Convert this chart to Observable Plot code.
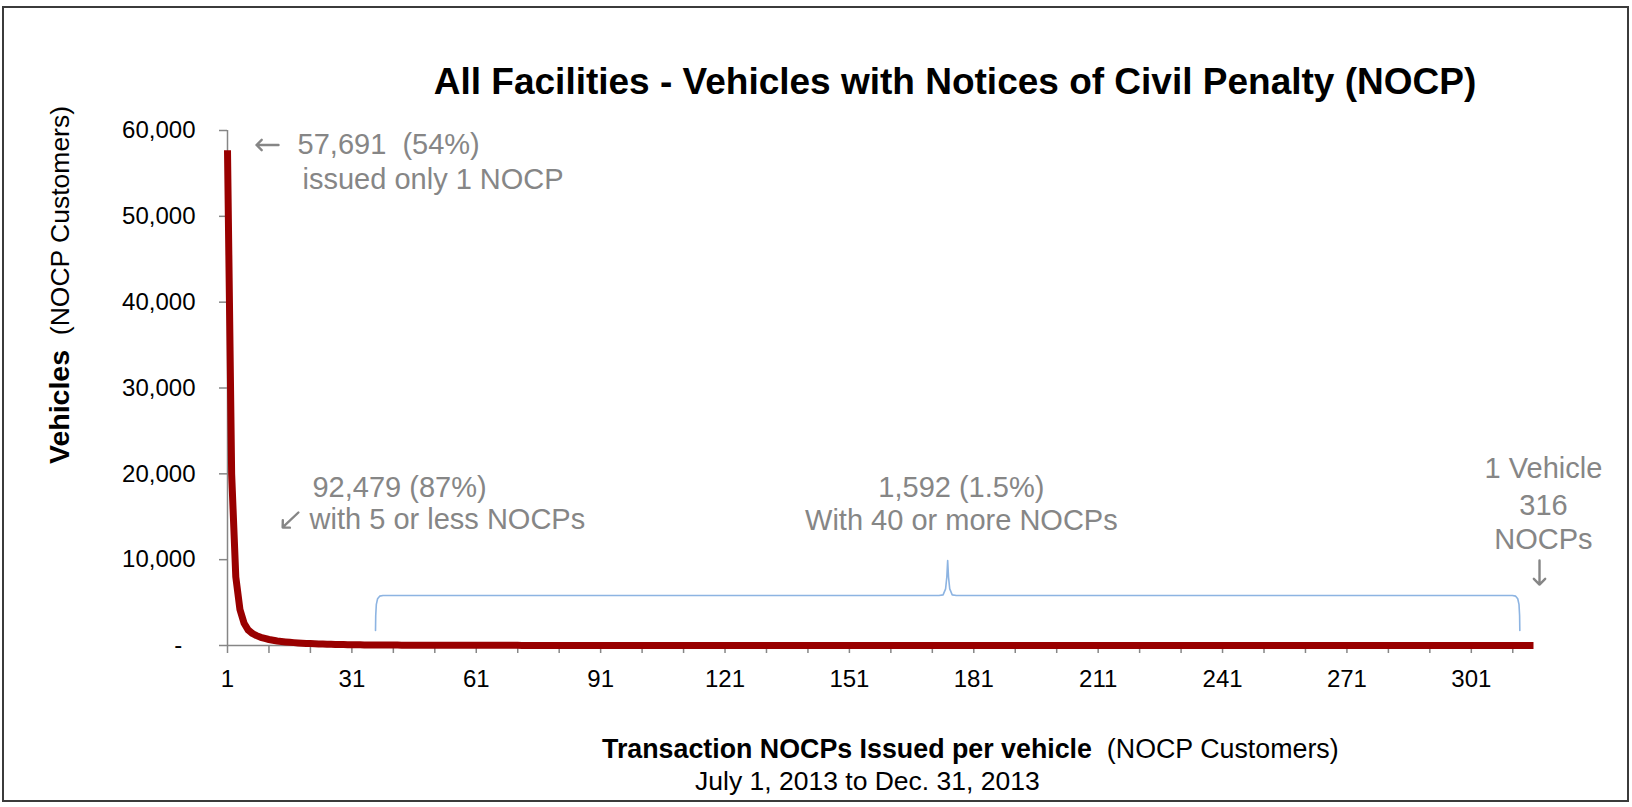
<!DOCTYPE html>
<html>
<head>
<meta charset="utf-8">
<script src="https://cdn.jsdelivr.net/npm/d3@7"></script>
<script src="https://cdn.jsdelivr.net/npm/@observablehq/plot@0.6"></script>
<style>
  html, body { margin: 0; padding: 0; background: #fff; }
  body { font-family: "Liberation Sans", Arial, sans-serif; }
  #wrap { position: relative; width: 1632px; height: 807px; overflow: hidden; background: #fff; }
  #frame { position: absolute; left: 2px; top: 6px; width: 1623px; height: 792px; border: 2px solid #3b3b3b; pointer-events: none; }
  #title { position: absolute; left: 955px; top: 63px; transform: translateX(-50%); white-space: nowrap;
           font-size: 37px; line-height: 37px; font-weight: bold; color: #000; }
  #chart { position: absolute; left: 0; top: 100px; }
  #ylabel { position: absolute; left: 59px; top: 285px; transform: translate(-50%, -50%) rotate(-90deg);
            white-space: nowrap; font-size: 26.5px; line-height: 28px; color: #000; }
  #ylabel b { font-size: 28.5px; }
  #xlabel { position: absolute; left: 602px; top: 736px; white-space: nowrap; font-size: 26.8px; line-height: 26.8px; color: #000; }
  #xsub { position: absolute; left: 695px; top: 768px; white-space: nowrap; font-size: 26.5px; line-height: 26.5px; color: #000; }
</style>
</head>
<body>
<div id="wrap">
  <div id="title">All Facilities - Vehicles with Notices of Civil Penalty (NOCP)</div>
  <div id="chart"></div>
  <div id="ylabel"><b>Vehicles</b>&nbsp; (NOCP Customers)</div>
  <div id="xlabel"><b>Transaction NOCPs Issued per vehicle</b>&nbsp; (NOCP Customers)</div>
  <div id="xsub">July 1, 2013 to Dec. 31, 2013</div>
  <div id="frame"></div>
</div>
<script>
// Number of vehicles by number of NOCPs issued (1 ... 316)
const vehicles = [
  57691, 20000, 8000, 4200, 2588, 1800, 1400, 1150, 950, 820,
  700, 610, 530, 470, 420, 375, 335, 300, 270, 245,
  222, 202, 184, 168, 154, 141, 129, 118, 108, 99,
  91, 84, 78, 72, 67, 62, 58, 54, 50, 48,
  46, 44, 42, 41, 40, 38, 37, 36, 35, 34,
  33, 32, 31, 30, 29, 28, 27, 26, 25, 24,
  23, 22, 21, 20, 19, 18, 18, 17, 16, 15,
  15, 14, 14, 13, 13, 12, 12, 11, 11, 10,
  10, 10, 9, 9, 9, 8, 8, 8, 8, 7,
  7, 7, 7, 6, 6, 6, 6, 6, 5, 5,
  5, 5, 5, 4, 4, 4, 4, 4, 4, 4,
  4, 4, 3, 4, 3, 3, 3, 3, 3, 3,
  3, 3, 3, 3, 3, 3, 2, 3, 2, 2,
  3, 2, 2, 2, 3, 2, 2, 2, 2, 2,
  2, 2, 2, 2, 2, 2, 2, 2, 2, 2,
  2, 1, 2, 2, 2, 1, 2, 2, 1, 2,
  1, 2, 2, 1, 2, 1, 2, 1, 2, 1,
  2, 1, 1, 2, 1, 2, 1, 1, 2, 1,
  1, 2, 1, 1, 1, 2, 1, 1, 1, 1,
  1, 1, 2, 1, 1, 1, 1, 1, 1, 1,
  1, 1, 1, 1, 1, 1, 1, 1, 1, 1,
  1, 1, 0, 1, 1, 1, 1, 0, 1, 1,
  1, 0, 1, 1, 1, 0, 1, 1, 1, 1,
  0, 1, 1, 0, 1, 1, 0, 1, 1, 1,
  0, 1, 0, 1, 1, 0, 1, 0, 1, 1,
  0, 1, 0, 1, 0, 1, 0, 1, 0, 1,
  0, 0, 1, 0, 1, 0, 0, 1, 0, 1,
  0, 0, 1, 0, 0, 1, 0, 0, 1, 0,
  1, 0, 0, 1, 0, 0, 0, 1, 0, 0,
  1, 0, 0, 0, 1, 0, 0, 0, 1, 0,
  0, 1, 0, 0, 0, 0, 1, 0, 0, 0,
  0, 1, 0, 0, 0, 1
];
// categories: NOCPs issued per vehicle
const nocps = d3.range(1, vehicles.length + 1);

// axis ticks
const yTicks = [0, 10000, 20000, 30000, 40000, 50000, 60000];
const xMinorTicks = [1, 11, 21, 31, 41, 51, 61, 71, 81, 91, 101, 111, 121, 131, 141, 151, 161, 171, 181, 191,
                     201, 211, 221, 231, 241, 251, 261, 271, 281, 291, 301, 311];
const xTickLabels = [1, 31, 61, 91, 121, 151, 181, 211, 241, 271, 301];

// annotation texts
const annStartText = ["57,691  (54%)", "issued only 1 NOCP", "92,479 (87%)", "with 5 or less NOCPs"];
const annMiddleText = ["1,592 (1.5%)", "With 40 or more NOCPs", "1 Vehicle", "316", "NOCPs"];

// --- annotation placement (data coordinates) ---
const annStartX = [17.9, 19.1, 21.5, 20.8];
const annStartY = [58370, 54290, 18400, 14680];
const annMiddleX = [178, 178, 318.4, 318.4, 318.4];
const annMiddleY = [18400, 14560, 20620, 16310, 12350];
const arrowX1 = [13.3, 18.1, 317.45];
const arrowY1 = [58310, 15495, 9900];
const arrowX2 = [8.0, 14.3, 317.45];
const arrowY2 = [58310, 13750, 7100];
const bracketX = [36.7, 36.75, 36.9, 37.2, 37.7, 38.5, 172.6, 173.6, 174.2, 174.5, 174.7, 174.9, 175.2, 175.8, 176.8,
                  310.9, 311.7, 312.2, 312.5, 312.65, 312.7];
const bracketY = [1750, 3500, 4800, 5450, 5750, 5825, 5825, 5900, 6600, 8000, 9900, 8000, 6600, 5900, 5825,
                  5825, 5750, 5450, 4800, 3500, 1750];

const table = nocps.map((n, i) => ({n, v: vehicles[i]}));
const bracket = bracketX.map((x, i) => ({x, y: bracketY[i]}));
const annStart = annStartText.map((t, i) => ({t, x: annStartX[i], y: annStartY[i]}));
const annMiddle = annMiddleText.map((t, i) => ({t, x: annMiddleX[i], y: annMiddleY[i]}));
const arrows = arrowX1.map((x1, i) => ({x1, y1: arrowY1[i], x2: arrowX2[i], y2: arrowY2[i]}));

const fmt = d3.format(",");
const axisGray = "#868686";
const annGray = "#868686";

const chart = Plot.plot({
  width: 1632,
  height: 620,
  marginLeft: 227,
  marginRight: 99,
  marginTop: 30,
  marginBottom: 75,
  x: {domain: [1, 316], label: null},
  y: {domain: [0, 60000], label: null},
  style: {fontFamily: '"Liberation Sans", Arial, sans-serif', background: "transparent", overflow: "visible", color: "#000"},
  marks: [
    Plot.axisY(yTicks, {tickSize: 8, tickPadding: 24, fontSize: 24, stroke: axisGray, strokeWidth: 1.5, fill: "#000",
      tickFormat: d => d === 0 ? "-\u00a0\u00a0" : fmt(d), label: null}),
    Plot.axisX(xMinorTicks, {tickSize: 8, tickPadding: 16, fontSize: 24, stroke: axisGray, strokeWidth: 1.5, fill: "#000",
      tickFormat: d => xTickLabels.includes(d) ? String(d) : "", label: null}),
    Plot.ruleX([1], {stroke: axisGray, strokeWidth: 1.5}),
    Plot.ruleY([0], {stroke: axisGray, strokeWidth: 1.5}),
    Plot.line(bracket, {x: "x", y: "y", stroke: "#8db4e2", strokeWidth: 1.6}),
    Plot.line(table, {x: "n", y: "v", stroke: "#990000", strokeWidth: 7, strokeLinecap: "butt"}),
    Plot.text(annStart, {x: "x", y: "y", text: "t", textAnchor: "start", fill: annGray, fontSize: 29}),
    Plot.text(annMiddle, {x: "x", y: "y", text: "t", textAnchor: "middle", fill: annGray, fontSize: 29}),
    Plot.arrow(arrows, {x1: "x1", y1: "y1", x2: "x2", y2: "y2", stroke: annGray, strokeWidth: 2.4,
      headLength: 11, headAngle: 90, insetStart: 0, insetEnd: 0})
  ]
});
document.getElementById("chart").appendChild(chart);
</script>
</body>
</html>
